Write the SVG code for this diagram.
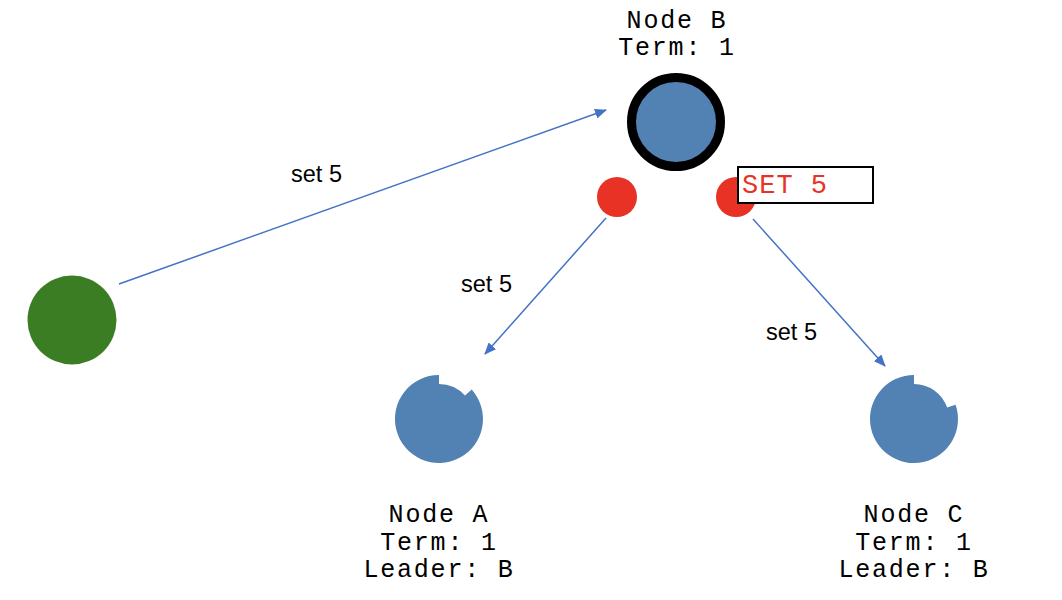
<svg xmlns="http://www.w3.org/2000/svg" width="1062" height="600" viewBox="0 0 1062 600">
<style>
.mono{font-family:"Liberation Mono","Courier New",monospace;font-size:25px;letter-spacing:1.8px;fill:#000;text-anchor:middle}
.lbl{font-family:"Liberation Sans",Arial,sans-serif;font-size:23.5px;fill:#000}
.node{fill:#5281B3}
.red{fill:#E83226}
.edge{stroke:#4472C4;stroke-width:1.5;fill:none;marker-end:url(#ah)}
</style>
<defs>
<marker id="ah" viewBox="0 0 12 10" refX="11" refY="5" markerWidth="12" markerHeight="10" markerUnits="userSpaceOnUse" orient="auto">
<path d="M0,0 L12,5 L0,10 Z" fill="#4472C4"/>
</marker>
</defs>
<rect width="1062" height="600" fill="#fff"/>
<g id="connectors">
<line class="edge" x1="119" y1="284" x2="606" y2="110"/>
<line class="edge" x1="606" y1="218" x2="485" y2="354"/>
<line class="edge" x1="753" y1="219" x2="885" y2="366"/>
<text class="lbl" x="291" y="182">set 5</text>
<text class="lbl" x="461" y="292">set 5</text>
<text class="lbl" x="766" y="340">set 5</text>
</g>
<g id="nodeB">
<circle class="node" cx="676" cy="122" r="44.5" stroke="#000" stroke-width="9"/>
<text class="mono" x="677" y="28">Node B</text>
<text class="mono" x="677" y="55">Term: 1</text>
</g>
<g id="client">
<circle cx="72" cy="320" r="44.5" fill="#3A7D22"/>
</g>
<g id="msgLeft">
<circle class="red" cx="617" cy="197" r="20"/>
</g>
<g id="msgRight">
<circle class="red" cx="736" cy="197" r="20"/>
<rect x="738" y="167" width="135" height="36" fill="#fff" stroke="#000" stroke-width="2"/>
<text x="742" y="193" font-family="'Liberation Mono','Courier New',monospace" font-size="27" letter-spacing="1" fill="#E83226">SET 5</text>
</g>
<g id="nodeA">
<path class="node" d="M439,384 A35,35 0 0 1 465,395.6 L471.7,389.6 A44,44 0 1 1 439,375 Z"/>
<text class="mono" x="439" y="522">Node A</text>
<text class="mono" x="439" y="549.5">Term: 1</text>
<text class="mono" x="439" y="577">Leader: B</text>
</g>
<g id="nodeC">
<path class="node" d="M914,384 A35,35 0 0 1 947.1,407.6 L955.6,404.7 A44,44 0 1 1 914,375 Z"/>
<text class="mono" x="914" y="522">Node C</text>
<text class="mono" x="914" y="549.5">Term: 1</text>
<text class="mono" x="914" y="577">Leader: B</text>
</g>
</svg>
